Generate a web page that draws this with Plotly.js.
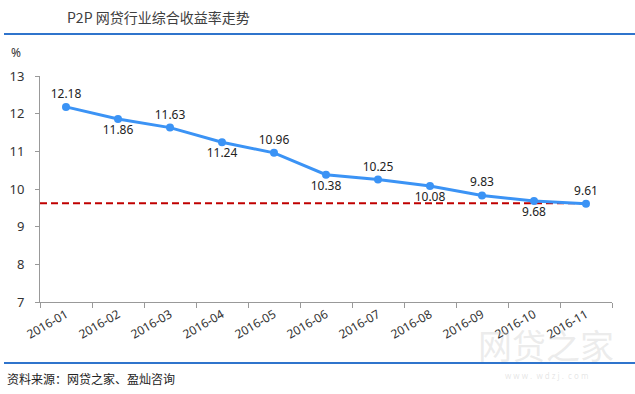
<!DOCTYPE html>
<html>
<head>
<meta charset="utf-8">
<script src="https://cdn.plot.ly/plotly-3.0.1.min.js"></script>
<style>html,body{margin:0;padding:0;background:#fff;}#chart{width:635px;height:394px;}</style>
</head>
<body>
<div id="chart"></div>
<script>
const months = ["2016-01","2016-02","2016-03","2016-04","2016-05","2016-06","2016-07","2016-08","2016-09","2016-10","2016-11"];
const rates = [12.18, 11.86, 11.63, 11.24, 10.96, 10.38, 10.25, 10.08, 9.83, 9.68, 9.61];
const labelSides = ["top","bottom","top","bottom","top","bottom","top","bottom","top","bottom","top"];
const referenceLevel = 9.62;
const yTicks = [7, 8, 9, 10, 11, 12, 13];

const W = 635, H = 394;
const M = {l: 40, r: 23, t: 76, b: 92};
const PW = W - M.l - M.r, PH = H - M.t - M.b;
const px = x => (x - M.l) / PW;
const py = y => (H - M.b - y) / PH;

const idx = months.map((_, i) => i);
const bounds = months.concat([""]).map((_, i) => i - 0.5);

const mainTrace = {
  x: idx, y: rates, type: "scatter", mode: "lines+markers+text",
  line: {color: "#3b93f5", width: 3},
  marker: {color: "#3b93f5", size: 8},
  text: rates.map(v => v.toFixed(2)),
  textposition: labelSides.map(s => s + " center"),
  textfont: {family: "Noto Sans, sans-serif", size: 12, color: "#222"},
  cliponaxis: false, hoverinfo: "none", showlegend: false
};
const refTrace = {
  x: [-0.5, months.length - 1], y: [referenceLevel, referenceLevel],
  type: "scatter", mode: "lines",
  line: {color: "#c00000", width: 2, dash: "7px,4px"},
  hoverinfo: "none", showlegend: false
};
const tickTrace = {
  x: [bounds[0]], y: [referenceLevel], xaxis: "x2", type: "scatter", mode: "none",
  hoverinfo: "none", showlegend: false
};

const layout = {
  width: W, height: H,
  margin: M,
  paper_bgcolor: "#fff", plot_bgcolor: "#fff",
  font: {family: "Noto Sans, sans-serif", color: "#333"},
  xaxis: {
    type: "linear", range: [-0.5, months.length - 0.5],
    tickmode: "array", tickvals: idx, ticktext: months,
    tickangle: -30, ticks: "", showgrid: false, zeroline: false,
    showline: true, linecolor: "#999", linewidth: 1,
    tickfont: {size: 12, color: "#333"}
  },
  xaxis2: {
    overlaying: "x", type: "linear", range: [-0.5, months.length - 0.5],
    tickmode: "array", tickvals: bounds, showticklabels: false,
    ticks: "outside", ticklen: 5, tickcolor: "#999", side: "bottom",
    showgrid: false, zeroline: false, showline: false
  },
  yaxis: {
    range: [7, 13], tickmode: "array", tickvals: yTicks,
    ticks: "outside", ticklen: 4, tickcolor: "#999",
    showgrid: false, zeroline: false, showline: true, linecolor: "#999", linewidth: 1,
    tickfont: {size: 13, color: "#333"}, ticklabelstandoff: 8
  },
  shapes: [
    {type: "line", xref: "paper", yref: "paper", x0: px(4), x1: px(635), y0: py(34), y1: py(34),
     line: {color: "#2f74cc", width: 2}},
    {type: "line", xref: "paper", yref: "paper", x0: px(4), x1: px(635), y0: py(363), y1: py(363),
     line: {color: "#2f74cc", width: 2}}
  ],
  annotations: [
    {text: "P2P 网贷行业综合收益率走势", xref: "paper", yref: "paper", x: px(158), y: py(17),
     xanchor: "center", yanchor: "middle", showarrow: false,
     font: {family: "Noto Sans CJK SC, sans-serif", size: 14, color: "#404040"}},
    {text: "%", xref: "paper", yref: "paper", x: px(16), y: py(52),
     xanchor: "center", yanchor: "middle", showarrow: false,
     font: {family: "Noto Sans, sans-serif", size: 12, color: "#333"}},
    {text: "资料来源：网贷之家、盈灿咨询", xref: "paper", yref: "paper", x: px(5), y: py(378),
     xanchor: "left", yanchor: "middle", showarrow: false,
     font: {family: "Noto Sans CJK SC, sans-serif", size: 12, color: "#222"}},
    {text: "网贷之家", xref: "paper", yref: "paper", x: px(546), y: py(344),
     xanchor: "center", yanchor: "middle", showarrow: false,
     font: {family: "Noto Sans CJK SC, sans-serif", size: 34, color: "rgba(200,200,200,0.35)"}},
    {text: "w w w .  w d z j .  c o m", xref: "paper", yref: "paper", x: px(546), y: py(375),
     xanchor: "center", yanchor: "middle", showarrow: false,
     font: {family: "Noto Sans, sans-serif", size: 8, color: "rgba(200,200,200,0.45)"}}
  ]
};

Plotly.newPlot("chart", [refTrace, mainTrace, tickTrace], layout, {displayModeBar: false, staticPlot: true});
</script>
</body>
</html>
